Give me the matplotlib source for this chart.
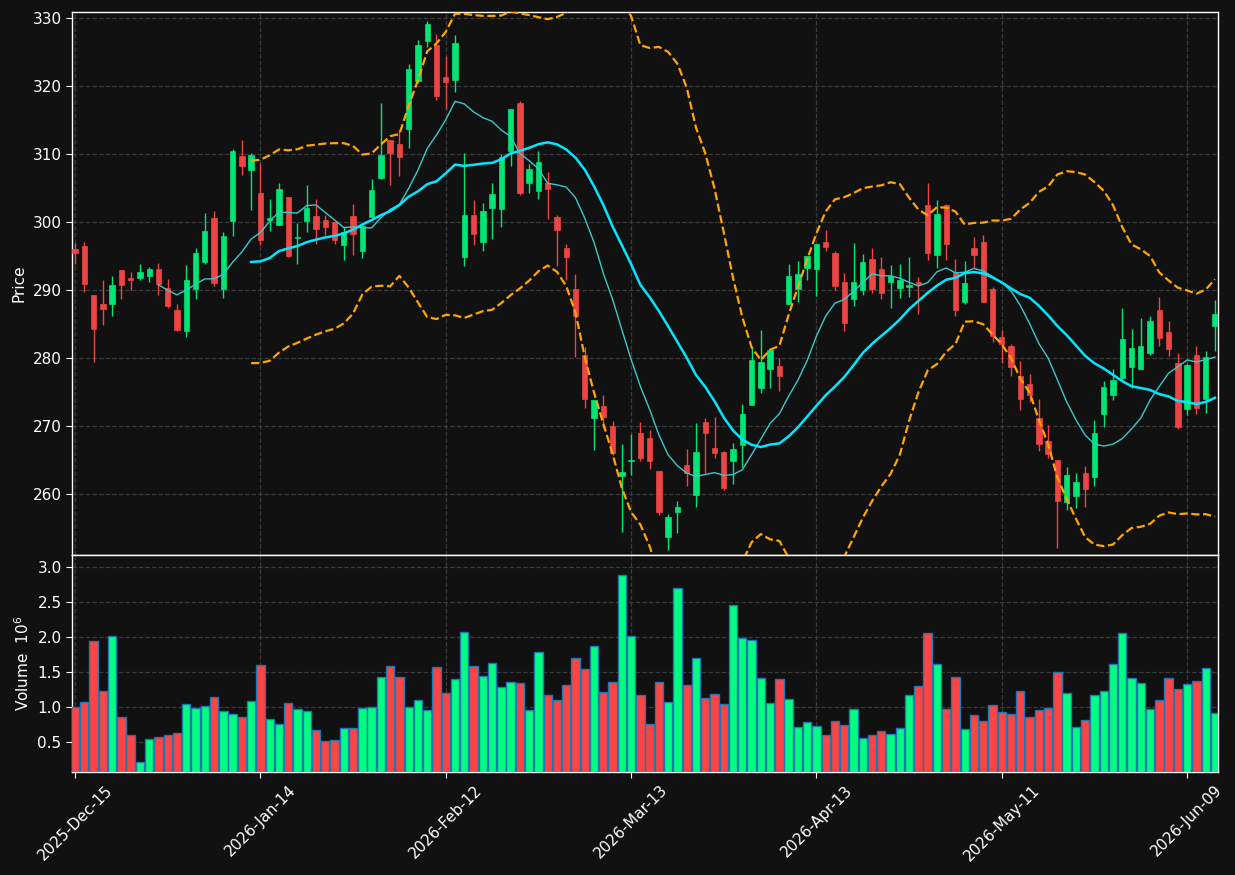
import numpy as np
import pandas as pd
import matplotlib
matplotlib.use("Agg")
import matplotlib.pyplot as plt

# ---------------- data ----------------
opens = [296.0, 296.5, 289.3, 288.0, 287.9, 293.0, 291.8, 291.7, 292.1, 293.1,
         290.3, 287.0, 283.9, 290.2, 294.1, 300.6, 290.2, 300.2, 309.7, 307.7,
         304.3, 300.3, 299.6, 303.7, 297.6, 300.2, 300.9, 300.3, 300.0, 296.6,
         300.9, 295.8, 300.7, 306.5, 312.0, 311.5, 313.7, 320.7, 326.7, 326.1,
         321.4, 320.9, 294.8, 301.0, 297.0, 302.1, 301.9, 310.4, 317.5, 305.8,
         304.5, 305.8, 300.8, 296.2, 290.2, 280.5, 271.2, 272.9, 270.0, 262.6,
         264.8, 269.0, 268.2, 263.3, 253.7, 257.3, 264.3, 259.8, 270.5, 266.8,
         266.1, 264.9, 267.2, 273.0, 275.6, 278.4, 278.8, 288.0, 290.1, 293.3,
         293.1, 297.0, 295.5, 291.1, 288.7, 290.0, 294.6, 293.1, 291.1, 290.3,
         290.5, 291.2, 302.5, 295.2, 302.5, 292.6, 288.3, 296.2, 297.0, 290.1,
         283.1, 281.7, 277.4, 276.1, 271.1, 267.8, 265.0, 258.8, 259.7, 263.1,
         262.5, 271.8, 274.5, 277.0, 278.7, 278.4, 280.7, 287.0, 283.8, 279.3,
         272.5, 280.5, 273.9, 284.7]
highs = [296.9, 297.0, 289.3, 291.4, 292.0, 293.0, 292.7, 293.8, 293.4, 294.0,
         291.6, 288.0, 293.6, 296.2, 301.3, 301.6, 298.5, 310.7, 312.1, 310.1,
         308.7, 303.4, 305.7, 303.7, 299.9, 305.4, 303.4, 301.1, 300.0, 299.2,
         302.7, 299.5, 306.3, 317.5, 312.0, 313.5, 323.3, 326.8, 329.6, 327.7,
         324.4, 327.5, 310.1, 303.2, 302.8, 305.8, 310.0, 316.7, 317.8, 308.5,
         310.5, 307.3, 301.1, 296.8, 292.4, 281.6, 273.8, 274.6, 270.7, 267.3,
         268.8, 270.6, 269.4, 263.3, 257.0, 259.0, 266.6, 270.4, 271.2, 271.3,
         266.3, 267.5, 273.2, 281.6, 284.1, 281.2, 280.0, 293.8, 294.3, 295.0,
         296.8, 298.8, 295.8, 292.5, 296.9, 295.3, 296.2, 294.8, 293.6, 293.8,
         294.8, 291.9, 305.7, 303.3, 302.6, 294.5, 294.3, 297.8, 298.1, 290.5,
         284.1, 282.1, 279.5, 277.7, 274.0, 270.2, 265.0, 263.9, 263.0, 264.1,
         270.8, 276.6, 278.4, 287.4, 284.2, 285.9, 286.1, 289.0, 285.5, 280.7,
         279.3, 281.8, 281.0, 288.5]
lows = [293.8, 289.7, 279.4, 284.9, 286.2, 288.7, 290.0, 291.4, 291.2, 289.3,
        287.4, 283.9, 283.1, 288.7, 293.8, 290.6, 288.8, 298.0, 306.9, 301.8,
        296.6, 298.7, 299.6, 294.8, 293.8, 298.6, 296.8, 298.1, 296.7, 294.4,
        295.1, 294.7, 300.7, 306.4, 305.4, 306.7, 310.9, 320.4, 325.8, 318.0,
        316.6, 319.1, 293.5, 296.6, 295.8, 297.5, 299.2, 308.3, 304.0, 304.2,
        303.4, 300.4, 293.5, 291.4, 280.2, 272.7, 266.4, 269.7, 265.7, 254.4,
        262.7, 264.9, 263.6, 256.9, 251.8, 254.3, 261.2, 258.1, 263.1, 265.3,
        260.5, 261.5, 263.9, 273.0, 274.9, 275.6, 275.1, 288.0, 288.3, 291.5,
        289.1, 295.8, 290.0, 283.9, 287.7, 289.3, 289.6, 288.6, 287.4, 288.8,
        289.0, 286.4, 294.4, 293.3, 294.4, 286.2, 288.0, 293.2, 288.2, 282.3,
        279.2, 277.3, 272.4, 273.5, 266.3, 265.3, 252.0, 257.6, 257.9, 258.0,
        261.2, 269.9, 273.8, 276.9, 275.6, 278.4, 280.5, 281.7, 280.3, 269.5,
        271.6, 271.7, 271.9, 281.0]
closes = [295.5, 290.9, 284.3, 287.2, 290.8, 290.7, 291.5, 292.6, 293.1, 290.9,
          287.6, 284.1, 291.5, 295.5, 298.7, 291.0, 298.0, 310.4, 308.3, 309.8,
          297.3, 300.6, 304.9, 295.0, 297.8, 302.1, 298.9, 299.2, 297.4, 298.6,
          298.2, 299.4, 304.7, 309.9, 310.1, 309.5, 322.5, 326.1, 329.2, 318.5,
          320.6, 326.4, 301.0, 298.2, 301.6, 304.1, 309.5, 316.7, 304.3, 307.8,
          308.8, 304.9, 298.8, 294.8, 286.1, 273.9, 273.8, 271.3, 266.0, 263.2,
          264.9, 265.3, 264.9, 257.3, 256.6, 258.0, 263.1, 266.2, 268.9, 266.0,
          260.8, 266.6, 271.8, 279.7, 279.4, 281.2, 277.3, 292.0, 292.4, 295.0,
          296.7, 296.3, 290.6, 285.2, 291.1, 294.1, 290.1, 289.5, 292.1, 291.5,
          290.8, 290.9, 295.4, 301.2, 296.7, 287.0, 291.0, 295.1, 288.3, 283.2,
          282.0, 278.7, 274.0, 274.5, 267.3, 265.8, 258.9, 262.8, 261.7, 260.7,
          268.9, 275.7, 276.7, 282.8, 281.5, 281.8, 285.4, 282.9, 281.3, 269.9,
          279.0, 272.7, 280.2, 286.5]
volumes_m = [1.00, 1.07, 1.94, 1.23, 2.01, 0.857, 0.60, 0.214, 0.543, 0.571,
             0.60, 0.629, 1.043, 0.986, 1.014, 1.143, 0.943, 0.90, 0.857, 1.086,
             1.60, 0.829, 0.757, 1.057, 0.971, 0.943, 0.671, 0.514, 0.529, 0.70,
             0.70, 0.986, 1.00, 1.429, 1.586, 1.429, 1.00, 1.10, 0.957, 1.571,
             1.20, 1.40, 2.07, 1.586, 1.443, 1.629, 1.286, 1.357, 1.343, 0.957,
             1.786, 1.171, 1.10, 1.314, 1.70, 1.543, 1.871, 1.214, 1.357, 2.886,
             2.014, 1.171, 0.757, 1.357, 1.071, 2.70, 1.314, 1.70, 1.129, 1.186,
             1.043, 2.457, 1.986, 1.957, 1.414, 1.057, 1.40, 1.114, 0.714, 0.786,
             0.729, 0.60, 0.80, 0.743, 0.971, 0.557, 0.60, 0.657, 0.614, 0.70,
             1.171, 1.30, 2.057, 1.614, 0.971, 1.429, 0.686, 0.886, 0.80, 1.029,
             0.929, 0.90, 1.229, 0.857, 0.957, 0.986, 1.50, 1.20, 0.714, 0.814,
             1.171, 1.229, 1.614, 2.057, 1.414, 1.343, 0.971, 1.10, 1.414, 1.257,
             1.329, 1.371, 1.557, 0.914]
volumes = [v * 1e6 for v in volumes_m]

start_date = "2025-12-15"
market_holidays = ["2025-12-25", "2026-01-01", "2026-01-19", "2026-02-16",
                   "2026-04-03", "2026-05-25"]
tick_every = 20
mav_periods = (10, 20)

# ---------------- derived ----------------
n = len(closes)
dates = pd.bdate_range(start=start_date, periods=n, freq="C", holidays=market_holidays)
df = pd.DataFrame({"Open": opens, "High": highs, "Low": lows,
                   "Close": closes, "Volume": volumes}, index=dates)
x = np.arange(n)
up = df["Close"].values >= df["Open"].values

sma_fast = df["Close"].rolling(mav_periods[0]).mean()
sma_slow = df["Close"].rolling(mav_periods[1]).mean()
std_slow = df["Close"].rolling(mav_periods[1]).std(ddof=0)
bb_up = sma_slow + 2 * std_slow
bb_lo = sma_slow - 2 * std_slow

# ---------------- style ----------------
BG = "#111111"
GRID = "#3a3a3a"
CANDLE_UP = "#00e676"
CANDLE_DN = "#ef4444"
VOL_UP = "#00ff80"
VOL_DN = "#ff4444"
plt.rcParams["font.family"] = ["DejaVu Sans"]

fig = plt.figure(figsize=(12.35, 8.75), dpi=100, facecolor=BG)
L, W = 72 / 1235, (1218 - 72) / 1235
ax = fig.add_axes([L, 1 - 555 / 875, W, (555 - 12) / 875])
axv = fig.add_axes([L, 1 - 772 / 875, W, (772 - 555) / 875], sharex=ax)

for a in (ax, axv):
    a.set_facecolor(BG)
    for s in a.spines.values():
        s.set_color("white")
        s.set_linewidth(1.0)
    a.tick_params(colors="white", labelsize=11, direction="out", length=4)
    a.grid(True, color=GRID, linestyle="--", linewidth=0.9)
    a.set_axisbelow(True)

# candles
colors_c = np.where(up, CANDLE_UP, CANDLE_DN)
ax.vlines(x, df["Low"], df["High"], colors=colors_c, linewidth=1.0, zorder=2)
body_bottom = np.minimum(df["Open"].values, df["Close"].values)
body_h = np.abs(df["Close"].values - df["Open"].values)
body_h = np.maximum(body_h, 0.12)
ax.bar(x, body_h, bottom=body_bottom, width=0.58, color=colors_c,
       edgecolor=colors_c, linewidth=0.5, zorder=3)

# moving averages and bands
ax.plot(x, sma_fast, color="#3cc8c8", linewidth=1.0, zorder=4)
ax.plot(x, sma_slow, color="#00e8ff", linewidth=1.8, zorder=4)
ax.plot(x, bb_up, color="#ffa500", linewidth=1.6, linestyle="--", zorder=4)
ax.plot(x, bb_lo, color="#ffa500", linewidth=1.6, linestyle="--", zorder=4)

ax.set_ylim(251.0, 330.9)
ax.set_yticks(np.arange(260, 331, 10))
ax.set_ylabel("Price", color="white", fontsize=11)

# volume
colors_v = np.where(up, VOL_UP, VOL_DN)
axv.bar(x, df["Volume"], width=0.9, color=colors_v, edgecolor="#1f77b4",
        linewidth=1.0, zorder=3)
axv.set_ylim(0.07e6, 3.17e6)
vticks = np.arange(0.5e6, 3.01e6, 0.5e6)
axv.set_yticks(vticks)
axv.set_yticklabels([f"{v/1e6:.1f}" for v in vticks])
axv.set_ylabel("Volume  $10^{6}$", color="white", fontsize=11)

ticks = x[::tick_every]
axv.set_xticks(ticks)
axv.set_xticklabels([d.strftime("%Y-%b-%d") for d in dates[ticks]],
                    rotation=45, ha="center")
ax.tick_params(labelbottom=False)
ax.set_xlim(-0.33, n - 1 + 0.33)

fig.savefig("out.png", dpi=100, facecolor=BG)
